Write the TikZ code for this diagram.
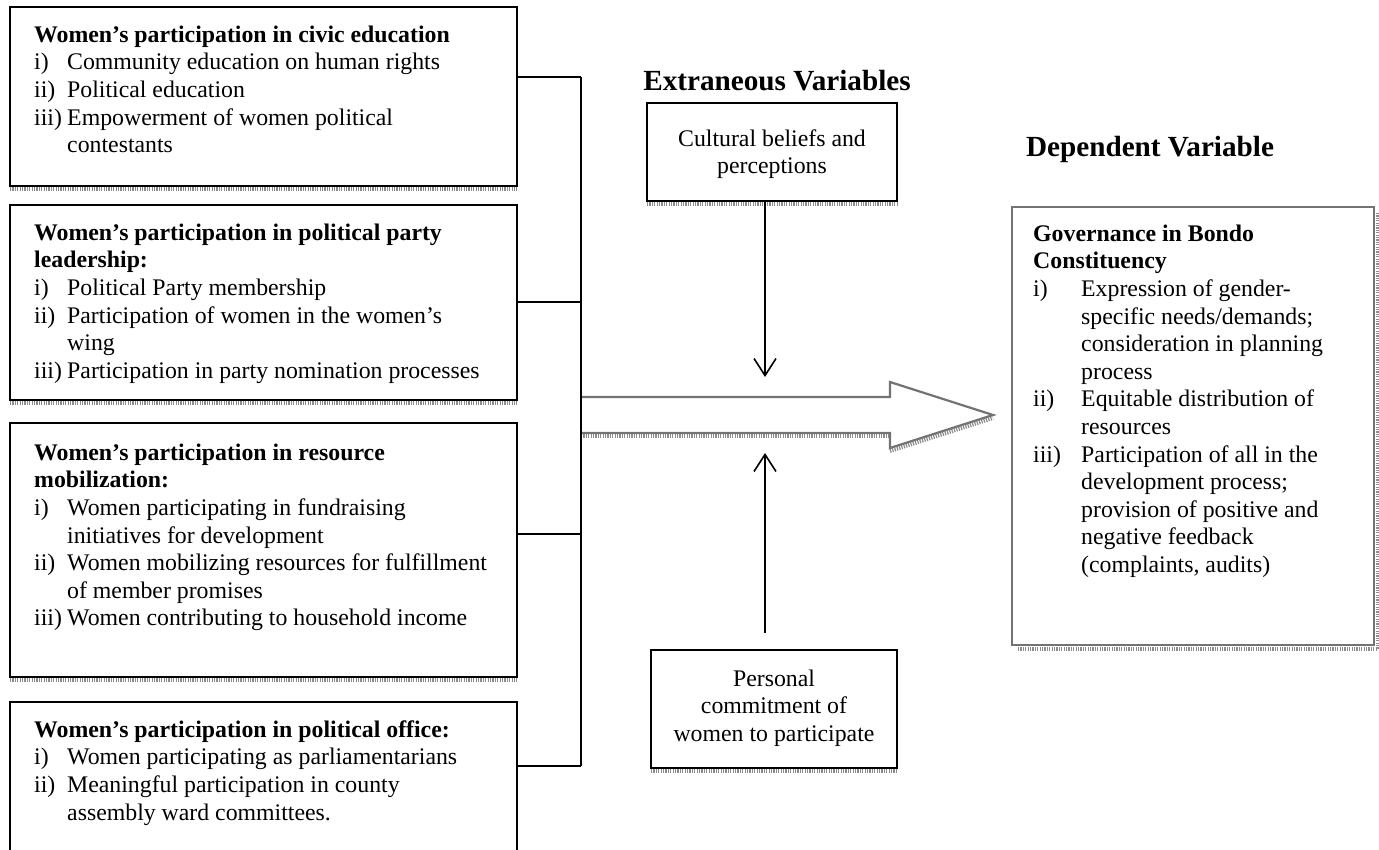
\documentclass[tikz,border=0pt]{standalone}
\usepackage{fontspec}
\setmainfont{Liberation Serif}
\usetikzlibrary{arrows.meta}
\begin{document}
\begin{tikzpicture}[x=1pt,y=-1pt,
  box/.style={draw=black, line width=2pt, fill=white, anchor=north west, inner sep=0pt, outer sep=0pt},
  gbox/.style={draw=black!55, line width=2.5pt, fill=white, anchor=north west, inner sep=0pt, outer sep=0pt},
  shadowline/.style={draw=black!45, line width=4pt, dash pattern=on 1.2pt off 1.2pt},
  body/.style={font=\fontsize{23.8pt}{27.6pt}\selectfont, inner sep=0pt, align=left, anchor=north west},
  cbody/.style={font=\fontsize{23.8pt}{27.6pt}\selectfont, inner sep=0pt, align=center, anchor=north},
  head/.style={font=\fontsize{29.2pt}{33pt}\selectfont\bfseries, inner sep=0pt, anchor=base},
  conn/.style={line width=1.6pt},
  arr/.style={line width=1.6pt, -{Straight Barb[length=17pt,width=22pt,line width=1.6pt]}},
  bigarrow/.style={draw=black!55, line width=2.2pt, fill=white, line join=miter}
]
\clip (0,0) rectangle (1379,850);
\fill[white] (0,0) rectangle (1379,850);

% ---------- left boxes ----------
\node[box, minimum width=507pt, minimum height=179pt] (b1) at (10,7) {};
\node[box, minimum width=507pt, minimum height=195pt] (b2) at (10,205) {};
\node[box, minimum width=507pt, minimum height=254pt] (b3) at (10,423) {};
\node[box, minimum width=507pt, minimum height=180pt] (b4) at (10,702) {};
\foreach \b in {b1,b2,b3}
  \draw[shadowline] ([yshift=-3.2pt]\b.south west) -- ([yshift=-3.2pt]\b.south east);

% first-line baselines: 42, 240, 460, 737 (node top = baseline - 19.32)
\node[body] (t1) at (34,22.7) {\strut\textbf{Women’s participation in civic education}\\
\makebox[33pt][l]{i)}Community education on human rights\\
\makebox[33pt][l]{ii)}Political education\\
\makebox[33pt][l]{iii)}Empowerment of women political\\
\hspace*{33pt}contestants};

\node[body] (t2) at (34,220.7) {\strut\textbf{Women’s participation in political party}\\
\textbf{leadership:}\\
\makebox[33pt][l]{i)}Political Party membership\\
\makebox[33pt][l]{ii)}Participation of women in the women’s\\
\hspace*{33pt}wing\\
\makebox[33pt][l]{iii)}Participation in party nomination processes};

\node[body] (t3) at (34,440.7) {\strut\textbf{Women’s participation in resource}\\
\textbf{mobilization:}\\
\makebox[33pt][l]{i)}Women participating in fundraising\\
\hspace*{33pt}initiatives for development\\
\makebox[33pt][l]{ii)}Women mobilizing resources for fulfillment\\
\hspace*{33pt}of member promises\\
\makebox[33pt][l]{iii)}Women contributing to household income};

\node[body] (t4) at (34,717.7) {\strut\textbf{Women’s participation in political office:}\\
\makebox[33pt][l]{i)}Women participating as parliamentarians\\
\makebox[33pt][l]{ii)}Meaningful participation in county\\
\hspace*{33pt}assembly ward committees.};

% ---------- bus ----------
\coordinate (bus1) at (581,77);
\coordinate (bus2) at (581,302);
\coordinate (bus3) at (581,534);
\coordinate (bus4) at (581,766);
\draw[conn] (b1.east |- bus1) -- (bus1);
\draw[conn] (b2.east |- bus2) -- (bus2);
\draw[conn] (b3.east |- bus3) -- (bus3);
\draw[conn] (b4.east |- bus4) -- (bus4);

% ---------- big arrow ----------
\coordinate (a1) at (581,397);
\coordinate (a2) at (890,397);
\coordinate (a3) at (890,382);
\coordinate (tip) at (993,415);
\coordinate (a5) at (890,448);
\coordinate (a6) at (890,433);
\coordinate (a7) at (581,433);
\draw[shadowline] ([yshift=-3pt]a7) -- ([yshift=-3pt]a6);
\draw[shadowline] ([yshift=-3pt]a5) -- ([yshift=-3pt]tip);
\draw[bigarrow] (a1) -- (a2) -- (a3) -- (tip) -- (a5) -- (a6) -- (a7);
\draw[conn] (bus1) -- (bus4);

% ---------- extraneous ----------
\node[head] (ext) at (777,91) {Extraneous Variables};
\node[box, minimum width=250pt, minimum height=98pt] (cult) at (647,103) {};
\draw[shadowline] ([yshift=-3.2pt]cult.south west) -- ([yshift=-3.2pt]cult.south east);
\node[cbody] (cultt) at (772,126.7) {\strut Cultural beliefs and\\perceptions};

\node[box, minimum width=246pt, minimum height=118pt] (pers) at (651,650) {};
\draw[shadowline] ([yshift=-3.2pt]pers.south west) -- ([yshift=-3.2pt]pers.south east);
\node[cbody] (perst) at (774,666.7) {\strut Personal\\commitment of\\women to participate};

\coordinate (dn) at (765,377);
\coordinate (upst) at (765,633);
\coordinate (upt) at (765,453);
\draw[arr] (cult.south -| dn) -- (dn);
\draw[arr] (upst) -- (upt);

% ---------- dependent ----------
\node[head] (dep) at (1150,157) {Dependent Variable};
\node[gbox, minimum width=362pt, minimum height=438pt] (gov) at (1012,207) {};
\draw[shadowline] ([xshift=3.5pt,yshift=-6pt]gov.north east) -- ([xshift=3.5pt,yshift=-3.5pt]gov.south east);
\draw[shadowline] ([xshift=6pt,yshift=-3.5pt]gov.south west) -- ([xshift=3.5pt,yshift=-3.5pt]gov.south east);
\node[body] (govt) at (1033,221.7) {\strut\textbf{Governance in Bondo}\\
\textbf{Constituency}\\
\makebox[48pt][l]{i)}Expression of gender-\\
\hspace*{48pt}specific needs/demands;\\
\hspace*{48pt}consideration in planning\\
\hspace*{48pt}process\\
\makebox[48pt][l]{ii)}Equitable distribution of\\
\hspace*{48pt}resources\\
\makebox[48pt][l]{iii)}Participation of all in the\\
\hspace*{48pt}development process;\\
\hspace*{48pt}provision of positive and\\
\hspace*{48pt}negative feedback\\
\hspace*{48pt}(complaints, audits)};
\end{tikzpicture}
\end{document}
